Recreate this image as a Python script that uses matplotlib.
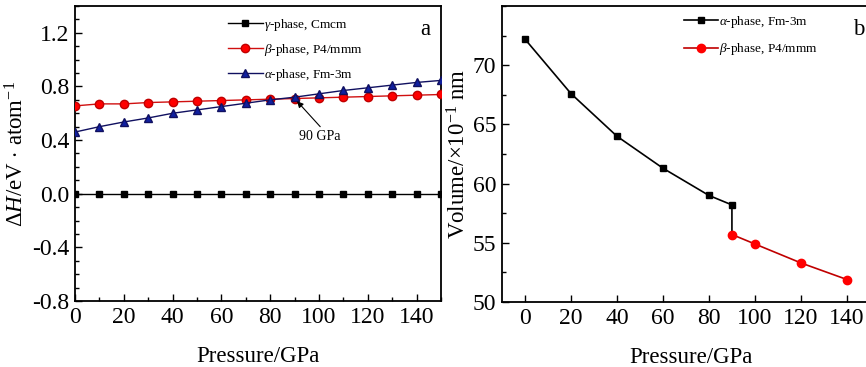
import matplotlib
matplotlib.use("Agg")
import matplotlib.pyplot as plt
from matplotlib.ticker import MultipleLocator

plt.rcParams['font.family'] = ['Liberation Serif', 'DejaVu Serif']
plt.rcParams['mathtext.fontset'] = 'custom'
plt.rcParams['mathtext.rm'] = 'Liberation Serif'
plt.rcParams['mathtext.it'] = 'Liberation Serif:italic'

# Panel a data
pressure_a = [0, 10, 20, 30, 40, 50, 60, 70, 80, 90, 100, 110, 120, 130, 140, 150]
dH_gamma = [0.0] * 16
dH_beta = [0.655, 0.67, 0.67, 0.68, 0.685, 0.69, 0.695, 0.70, 0.705, 0.71,
           0.715, 0.72, 0.725, 0.73, 0.735, 0.74]
dH_alpha = [0.46, 0.50, 0.535, 0.565, 0.60, 0.625, 0.65, 0.675, 0.70, 0.72,
            0.745, 0.77, 0.79, 0.81, 0.83, 0.845]

# Panel b data
pressure_alpha_b = [0, 20, 40, 60, 80, 90]
vol_alpha = [72.2, 67.6, 64.0, 61.3, 59.0, 58.2]
pressure_beta_b = [90, 100, 120, 140]
vol_beta = [55.7, 54.9, 53.3, 51.9]

fig = plt.figure(figsize=(8.66, 3.67), dpi=100)
W, H = 866, 367
axa = fig.add_axes([75 / W, 1 - 301 / H, (441 - 75) / W, (301 - 6) / H])
axb = fig.add_axes([502 / W, 1 - 302 / H, (880 - 502) / W, (302 - 6) / H])

ms = 5
axa.plot(pressure_a, dH_gamma, '-s', color='black', mfc='black', mec='black', ms=ms, lw=1.0,
         label=r'$\gamma$-phase, Cmcm', zorder=3)
axa.plot(pressure_a, dH_beta, '-o', color='#d01010', mfc='red', mec='#c00000', ms=ms + 1, lw=1.0,
         label=r'$\beta$-phase, P4/mmm', zorder=3)
axa.plot(pressure_a, dH_alpha, '-^', color='#101060', mfc='#1020a0', mec='#101060', ms=ms + 1, lw=1.0,
         label=r'$\alpha$-phase, Fm-3m', zorder=4)

axa.set_xlim(0, 150)
axa.set_ylim(-0.8, 1.4)
axa.xaxis.set_major_locator(MultipleLocator(20))
axa.xaxis.set_minor_locator(MultipleLocator(10))
axa.yaxis.set_minor_locator(MultipleLocator(0.1))
axa.set_yticks([-0.8, -0.4, 0.0, 0.4, 0.8, 1.2])
axa.set_yticklabels(['-0.8', '-0.4', '0.0', '0.4', '0.8', '1.2'])
axa.set_xlabel('Pressure/GPa', fontsize=16.5, labelpad=13)
axa.set_ylabel(r'$\Delta H$/eV $\cdot$ atom$^{-1}$', fontsize=16.5, labelpad=3)
axa.legend(loc='upper left', bbox_to_anchor=(0.39, 1.0), frameon=False, fontsize=9.5,
           handlelength=2.6, handletextpad=0.1, labelspacing=0.7, borderaxespad=0.4)
axa.text(0.97, 0.955, 'a', transform=axa.transAxes, fontsize=16.5, ha='right', va='top')
axa.annotate('', xy=(91, 0.69), xytext=(100.5, 0.50),
             arrowprops=dict(arrowstyle='-|>', color='black', lw=0.8, mutation_scale=9,
                             shrinkA=0, shrinkB=0), zorder=6)
axa.text(100.5, 0.43, '90 GPa', fontsize=10, ha='center', va='center')

axb.plot(pressure_alpha_b + [pressure_beta_b[0]], vol_alpha + [vol_beta[0]], '-', color='black', lw=1.2, zorder=2)
axb.plot(pressure_alpha_b, vol_alpha, 's', color='black', ms=ms, zorder=3)
axb.plot(pressure_beta_b, vol_beta, '-o', color='#c00000', mfc='red', mec='red', ms=ms + 1, lw=1.2, zorder=3)
# legend proxies
hA, = axb.plot([], [], '-s', color='black', ms=ms, lw=1.2)
hB, = axb.plot([], [], '-o', color='#c00000', mfc='red', mec='red', ms=ms + 1, lw=1.2)
axb.legend([hA, hB], [r'$\alpha$-phase, Fm-3m', r'$\beta$-phase, P4/mmm'], loc='upper left',
           bbox_to_anchor=(0.46, 1.0), frameon=False, fontsize=9.5,
           handlelength=2.6, handletextpad=0.1, labelspacing=0.85, borderaxespad=0.2)
axb.text((864 - 502) / (880 - 502), 0.955, 'b', transform=axb.transAxes, fontsize=16.5, ha='right', va='top')

axb.set_xlim(-10, 154.4)
axb.set_ylim(50, 75)
axb.yaxis.set_minor_locator(MultipleLocator(2.5))
axb.set_xticks([0, 20, 40, 60, 80, 100, 120, 140])
axb.set_yticks([50, 55, 60, 65, 70])
axb.set_xlabel('Pressure/GPa', fontsize=16.5, labelpad=13)
axb.set_ylabel(r'Volume/$\times$10$^{-1}$ nm', fontsize=16.5, labelpad=2)

for ax in (axa, axb):
    ax.tick_params(which='both', direction='in', labelsize=17, width=1.0)
    ax.tick_params(which='major', length=5, pad=4)
    ax.tick_params(which='minor', length=3)
    ax.tick_params(top=False, right=False, which='both')
    for s in ax.spines.values():
        s.set_linewidth(1.3)

fig.savefig('out.png', dpi=100)
